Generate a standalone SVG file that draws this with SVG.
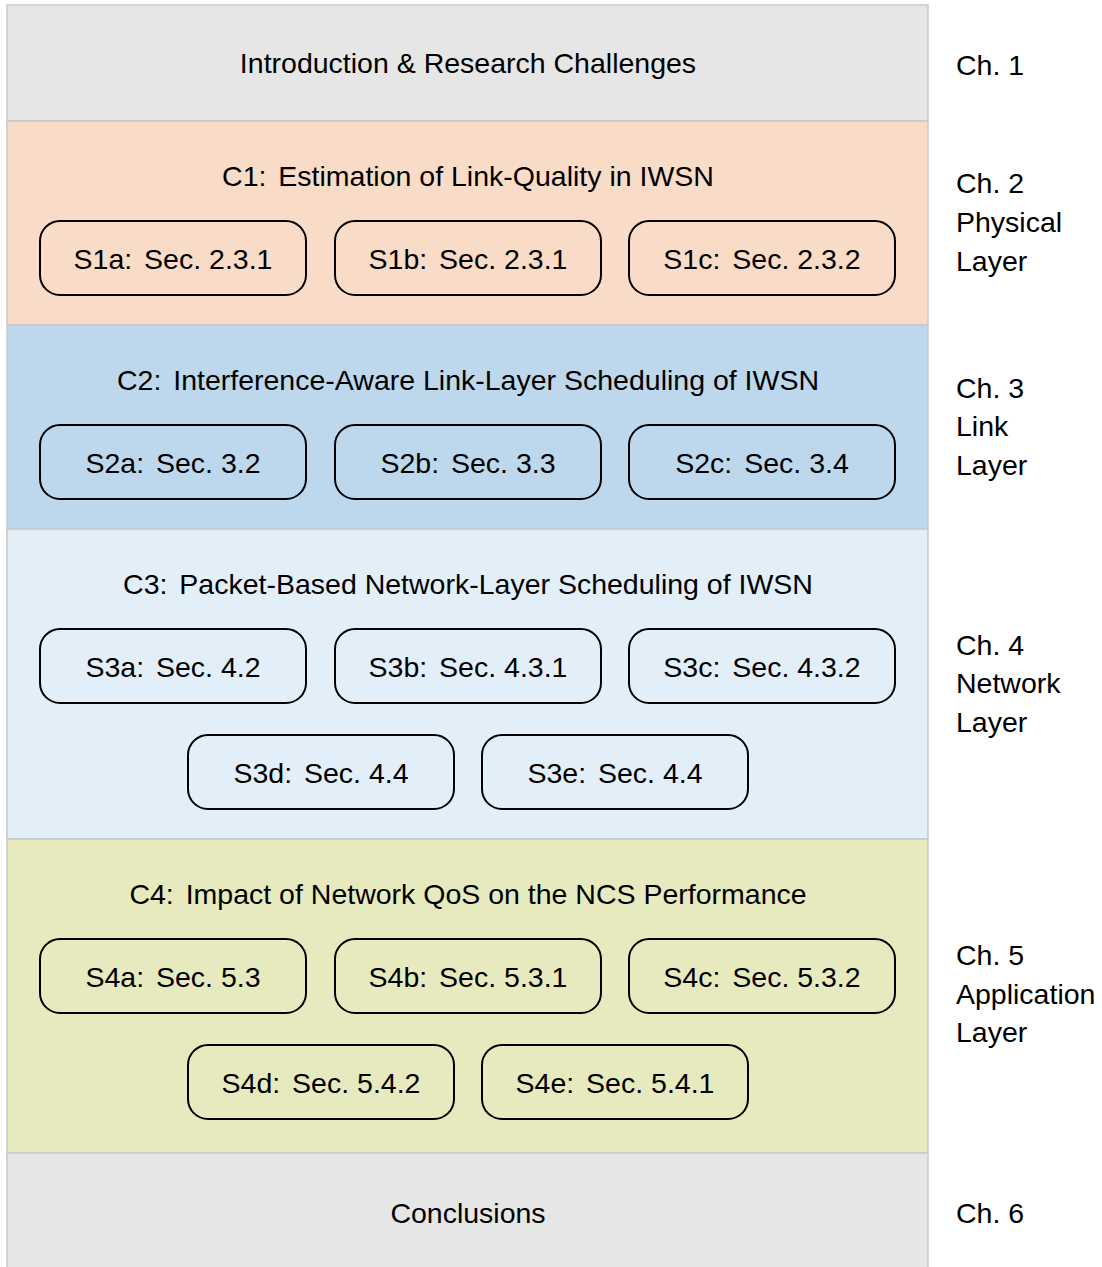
<svg xmlns="http://www.w3.org/2000/svg" width="1102" height="1267" viewBox="0 0 1102 1267">
<style>
.band{stroke:#c9c9c9;stroke-width:1.5}
.box{fill:none;stroke:#000;stroke-width:2}
text{font-family:"Liberation Sans",Arial,Helvetica,sans-serif;font-size:28.5px;fill:#000}
.c{text-anchor:middle}
</style>
<rect width="1102" height="1267" fill="#ffffff"/>
<g id="intro"><rect class="band" x="7" y="5" width="921" height="116" fill="#e6e6e6"/><text class="c" x="468" y="73">Introduction &amp; Research Challenges</text></g>
<g id="c1"><rect class="band" x="7" y="121" width="921" height="204" fill="#f9dcc7"/><text class="c" x="468" y="186">C1:<tspan dx="4"> Estimation of Link-Quality in IWSN</tspan></text></g>
<g id="c2"><rect class="band" x="7" y="325" width="921" height="204" fill="#bdd8ec"/><text class="c" x="468" y="390">C2:<tspan dx="4"> Interference-Aware Link-Layer Scheduling of IWSN</tspan></text></g>
<g id="c3"><rect class="band" x="7" y="529" width="921" height="310" fill="#e2eff9"/><text class="c" x="468" y="594">C3:<tspan dx="4"> Packet-Based Network-Layer Scheduling of IWSN</tspan></text></g>
<g id="c4"><rect class="band" x="7" y="839" width="921" height="314" fill="#e7eabf"/><text class="c" x="468" y="904">C4:<tspan dx="4"> Impact of Network QoS on the NCS Performance</tspan></text></g>
<g id="concl"><rect class="band" x="7" y="1153" width="921" height="120" fill="#e6e6e6"/><text class="c" x="468" y="1223">Conclusions</text></g>

<g id="s1a"><rect class="box" x="40" y="221" width="266" height="74" rx="20"/><text class="c" x="173" y="269">S1a:<tspan dx="4"> Sec. 2.3.1</tspan></text></g>
<g id="s1b"><rect class="box" x="335" y="221" width="266" height="74" rx="20"/><text class="c" x="468" y="269">S1b:<tspan dx="4"> Sec. 2.3.1</tspan></text></g>
<g id="s1c"><rect class="box" x="629" y="221" width="266" height="74" rx="20"/><text class="c" x="762" y="269">S1c:<tspan dx="4"> Sec. 2.3.2</tspan></text></g>

<g id="s2a"><rect class="box" x="40" y="425" width="266" height="74" rx="20"/><text class="c" x="173" y="473">S2a:<tspan dx="4"> Sec. 3.2</tspan></text></g>
<g id="s2b"><rect class="box" x="335" y="425" width="266" height="74" rx="20"/><text class="c" x="468" y="473">S2b:<tspan dx="4"> Sec. 3.3</tspan></text></g>
<g id="s2c"><rect class="box" x="629" y="425" width="266" height="74" rx="20"/><text class="c" x="762" y="473">S2c:<tspan dx="4"> Sec. 3.4</tspan></text></g>

<g id="s3a"><rect class="box" x="40" y="629" width="266" height="74" rx="20"/><text class="c" x="173" y="677">S3a:<tspan dx="4"> Sec. 4.2</tspan></text></g>
<g id="s3b"><rect class="box" x="335" y="629" width="266" height="74" rx="20"/><text class="c" x="468" y="677">S3b:<tspan dx="4"> Sec. 4.3.1</tspan></text></g>
<g id="s3c"><rect class="box" x="629" y="629" width="266" height="74" rx="20"/><text class="c" x="762" y="677">S3c:<tspan dx="4"> Sec. 4.3.2</tspan></text></g>
<g id="s3d"><rect class="box" x="188" y="735" width="266" height="74" rx="20"/><text class="c" x="321" y="783">S3d:<tspan dx="4"> Sec. 4.4</tspan></text></g>
<g id="s3e"><rect class="box" x="482" y="735" width="266" height="74" rx="20"/><text class="c" x="615" y="783">S3e:<tspan dx="4"> Sec. 4.4</tspan></text></g>

<g id="s4a"><rect class="box" x="40" y="939" width="266" height="74" rx="20"/><text class="c" x="173" y="987">S4a:<tspan dx="4"> Sec. 5.3</tspan></text></g>
<g id="s4b"><rect class="box" x="335" y="939" width="266" height="74" rx="20"/><text class="c" x="468" y="987">S4b:<tspan dx="4"> Sec. 5.3.1</tspan></text></g>
<g id="s4c"><rect class="box" x="629" y="939" width="266" height="74" rx="20"/><text class="c" x="762" y="987">S4c:<tspan dx="4"> Sec. 5.3.2</tspan></text></g>
<g id="s4d"><rect class="box" x="188" y="1045" width="266" height="74" rx="20"/><text class="c" x="321" y="1093">S4d:<tspan dx="4"> Sec. 5.4.2</tspan></text></g>
<g id="s4e"><rect class="box" x="482" y="1045" width="266" height="74" rx="20"/><text class="c" x="615" y="1093">S4e:<tspan dx="4"> Sec. 5.4.1</tspan></text></g>

<g id="chapters">
<text x="956" y="75">Ch. 1</text>
<text x="956" y="193">Ch. 2</text><text x="956" y="232">Physical</text><text x="956" y="271">Layer</text>
<text x="956" y="398">Ch. 3</text><text x="956" y="436">Link</text><text x="956" y="475">Layer</text>
<text x="956" y="655">Ch. 4</text><text x="956" y="693">Network</text><text x="956" y="732">Layer</text>
<text x="956" y="965">Ch. 5</text><text x="956" y="1004">Application</text><text x="956" y="1042">Layer</text>
<text x="956" y="1223">Ch. 6</text>
</g>
<g id="connectors"></g>
</svg>
